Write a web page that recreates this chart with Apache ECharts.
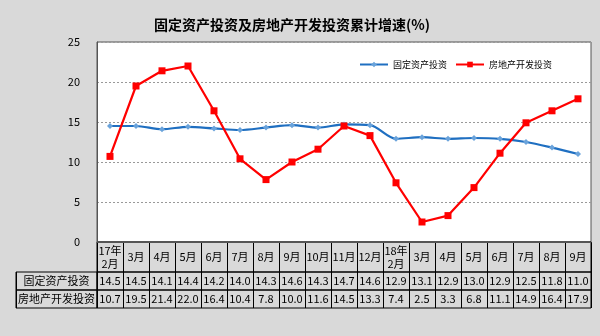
<!DOCTYPE html>
<html><head><meta charset="utf-8">
<script src="https://cdn.jsdelivr.net/npm/echarts@6/dist/echarts.min.js"></script>
<style>html,body{margin:0;padding:0;background:#d9d9d9;}#c{width:600px;height:336px;}</style>
</head><body><div id="c"></div>
<script>
const categories = ['17年\n2月','3月','4月','5月','6月','7月','8月','9月','10月','11月','12月','18年\n2月','3月','4月','5月','6月','7月','8月','9月'];
const fixedInvest = [14.5,14.5,14.1,14.4,14.2,14.0,14.3,14.6,14.3,14.7,14.6,12.9,13.1,12.9,13.0,12.9,12.5,11.8,11.0];
const realEstate = [10.7,19.5,21.4,22.0,16.4,10.4,7.8,10.0,11.6,14.5,13.3,7.4,2.5,3.3,6.8,11.1,14.9,16.4,17.9];
const seriesNames = ['固定资产投资','房地产开发投资'];
const yTicks = [0,5,10,15,20,25];

const FONT = '"Noto Sans CJK SC", sans-serif';
const L = 97, W = 494;
const fmt = v => v.toFixed(1);

function tableAxis(gi, data, margin) {
  return {
    type: 'category', gridIndex: gi, data: data, boundaryGap: true,
    axisLine: {show: false}, axisTick: {show: false},
    splitLine: {show: true, interval: 0, lineStyle: {color: '#000', width: 1}},
    axisLabel: {interval: 0, position: 'top', margin: margin, verticalAlign: 'middle',
      color: '#000', fontSize: 11, fontFamily: FONT, lineHeight: 13},
    position: 'top'
  };
}
function hiddenY(gi) {
  return {type: 'value', gridIndex: gi, show: false, min: 0, max: 1, splitLine: {show: false}};
}

const chart = echarts.init(document.getElementById('c'), null, {renderer: 'canvas'});
chart.setOption({
  backgroundColor: '#d9d9d9',
  animation: false,
  title: {text: '固定资产投资及房地产开发投资累计增速(%)', left: 287, textAlign: 'center', top: 13,
    textStyle: {fontSize: 14, fontWeight: 'bold', color: '#000', fontFamily: FONT}},
  legend: {left: 354, top: 55, itemWidth: 28, itemHeight: 7, itemGap: 8,
    textStyle: {fontSize: 9, color: '#000', fontFamily: FONT}, data: seriesNames},
  grid: [
    {left: L, top: 42, width: W, height: 200, show: true, backgroundColor: '#fff', borderColor: '#555', borderWidth: 1},
    {left: L, top: 242, width: W, height: 30, show: true, backgroundColor: 'transparent', borderColor: '#000', borderWidth: 1},
    {left: L, top: 272, width: W, height: 18, show: true, backgroundColor: 'transparent', borderColor: '#000', borderWidth: 1},
    {left: L, top: 290, width: W, height: 18, show: true, backgroundColor: 'transparent', borderColor: '#000', borderWidth: 1},
    {left: 16, top: 272, width: 81, height: 18, show: true, backgroundColor: 'transparent', borderColor: '#000', borderWidth: 1},
    {left: 16, top: 290, width: 81, height: 18, show: true, backgroundColor: 'transparent', borderColor: '#000', borderWidth: 1}
  ],
  xAxis: [
    {type: 'category', gridIndex: 0, data: categories, boundaryGap: true,
      axisLine: {show: true, lineStyle: {color: '#555'}}, axisTick: {show: false}, axisLabel: {show: false}},
    tableAxis(1, categories, -15),
    tableAxis(2, fixedInvest.map(fmt), -9),
    tableAxis(3, realEstate.map(fmt), -9),
    tableAxis(4, [seriesNames[0]], -9),
    tableAxis(5, [seriesNames[1]], -9)
  ],
  yAxis: [
    {type: 'value', gridIndex: 0, min: yTicks[0], max: yTicks[yTicks.length-1], interval: 5,
      axisLine: {show: true, lineStyle: {color: '#555'}}, axisTick: {show: false},
      axisLabel: {margin: 17, color: '#000', fontSize: 11, fontFamily: FONT},
      splitLine: {show: true, lineStyle: {color: '#999', type: [2, 2], width: 1}}},
    hiddenY(1), hiddenY(2), hiddenY(3), hiddenY(4), hiddenY(5)
  ],
  series: [
    {name: seriesNames[0], type: 'line', xAxisIndex: 0, yAxisIndex: 0, data: fixedInvest,
      smooth: 0.3, symbol: 'diamond', symbolSize: 6,
      lineStyle: {color: '#1f6fc1', width: 2.2}, itemStyle: {color: '#6aa3db'}, color: '#1f6fc1'},
    {name: seriesNames[1], type: 'line', xAxisIndex: 0, yAxisIndex: 0, data: realEstate,
      symbol: 'rect', symbolSize: 7,
      lineStyle: {color: '#ff0000', width: 2.2}, itemStyle: {color: '#ff0000'}, color: '#ff0000'}
  ]
});
</script></body></html>
